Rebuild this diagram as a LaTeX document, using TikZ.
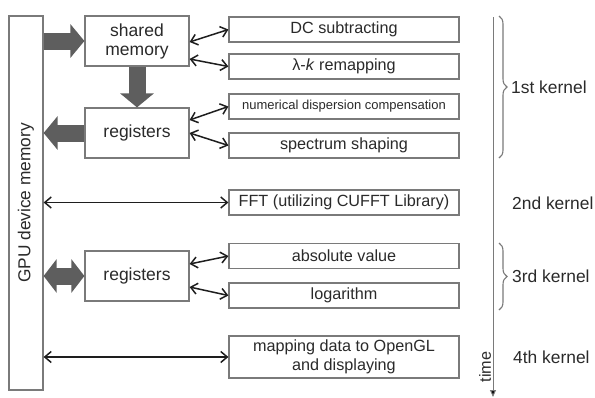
\documentclass[tikz,border=0pt]{standalone}
\usepackage{fontspec}
\setmainfont{Liberation Sans}
\usetikzlibrary{arrows.meta,calc,decorations.pathreplacing}
\definecolor{edgegray}{HTML}{7A7A7A}
\definecolor{txtgray}{HTML}{2A2A2A}
\definecolor{fatgray}{HTML}{5E5E5E}
\definecolor{linkgray}{HTML}{1E1E1E}
\begin{document}
\begin{tikzpicture}[x=1pt,y=-1pt,
  box/.style={draw=edgegray,line width=1.2pt,fill=white,inner sep=0pt,
    text=txtgray,font=\fontsize{16.2}{19}\selectfont,align=center},
  stage/.style={box,minimum width=230pt,minimum height=25pt},
  unit/.style={box,minimum width=104pt,minimum height=50pt,
    font=\fontsize{17.5}{19}\selectfont},
  fat/.style={line width=17pt,draw=fatgray,
    -{Triangle[length=14pt,width=33pt]}},
  fatboth/.style={line width=17pt,draw=fatgray,
    {Triangle[length=13pt,width=33pt]}-{Triangle[length=13pt,width=33pt]}},
  link/.style={draw=linkgray,line width=1.5pt,
    {Straight Barb[length=6.5pt,width=11pt]}-{Straight Barb[length=6.5pt,width=11pt]}},
  kernel/.style={anchor=west,inner sep=0pt,text=txtgray,font=\fontsize{17.4}{20}\selectfont},
  kbrace/.style={draw=edgegray,line width=1.1pt,
    decorate,decoration={brace,amplitude=8pt}}]
\useasboundingbox (0,0) rectangle (595,397);

% global memory column
\node[box,rotate=90,minimum width=374pt,minimum height=34pt,
  font=\fontsize{17.3}{20}\selectfont] (gpu) at (26,203) {GPU device memory};

% on-chip memories
\node[unit] (shared) at (137,41) {shared\\memory};
\node[unit] (regA) at (137,133) {registers};
\node[unit] (regB) at (137,276) {registers};

% processing stages
\node[stage] (dc) at (344,29.5) {DC subtracting};
\node[stage] (remap) at (344,66.5) {λ-\textit{k} remapping};
\node[stage,font=\fontsize{13}{15}\selectfont] (disp) at (344,106.5) {numerical dispersion compensation};
\node[stage] (shape) at (344,145.5) {spectrum shaping};
\node[stage] (fft) at (344,202.5) {FFT (utilizing CUFFT Library)};
\node[stage] (absv) at (344,256) {absolute value};
\node[stage] (logv) at (344,295.5) {logarithm};
\node[stage,minimum height=42pt] (show) at (344,357) {mapping data to OpenGL\\and displaying};

% bulk data movement
\draw[fat] (gpu.south |- shared.west) -- (shared.west);
\draw[fat] (shared.south) -- (regA.north);
\draw[fat] (regA.west) -- (gpu.south |- regA.west);
\draw[fatboth] (gpu.south |- regB.west) -- (regB.west);

% stage access
\draw[link] ($(shared.east)+(0,1)$) -- (dc.west);
\draw[link] ($(shared.east)+(0,18)$) -- (remap.west);
\draw[link] ($(regA.east)+(0,-13)$) -- (disp.west);
\draw[link] (regA.east) -- (shape.west);
\draw[link] ($(regB.east)+(0,-12)$) -- (absv.west);
\draw[link] ($(regB.east)+(0,11)$) -- (logv.west);
\draw[link] (gpu.south |- fft.west) -- (fft.west);
\draw[link] (gpu.south |- show.west) -- (show.west);

% time axis
\coordinate (t0) at (493,17);
\coordinate (t1) at (493,397);
\draw[edgegray,line width=1pt,-{Triangle[length=7pt,width=6pt,fill=black]}] (t0) -- (t1);
\node[rotate=90,text=txtgray,font=\fontsize{16.2}{18}\selectfont] (time) at (485,367) {time};

% kernel grouping
\draw[kbrace] (499,16) -- (499,158);
\draw[kbrace] (499,243) -- (499,310);
\node[kernel] (k1) at (511,87) {1st kernel};
\node[kernel] (k2) at (512,203) {2nd kernel};
\node[kernel] (k3) at (512,276) {3rd kernel};
\node[kernel] (k4) at (513,357) {4th kernel};
\end{tikzpicture}
\end{document}
